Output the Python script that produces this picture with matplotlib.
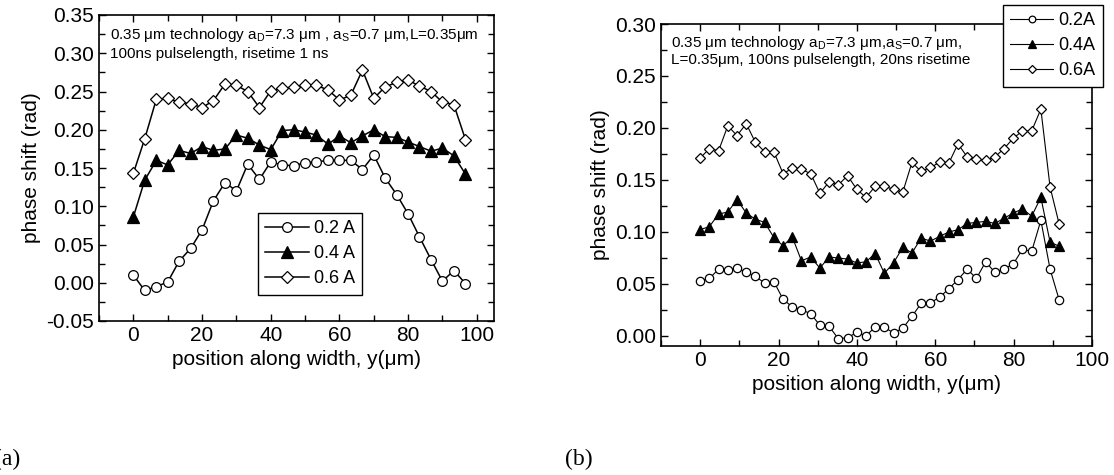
import numpy as np
import matplotlib.pyplot as plt
from matplotlib.ticker import MultipleLocator, FormatStrFormatter

plt.rcParams['font.family'] = ['Liberation Sans', 'DejaVu Sans']
plt.rcParams['mathtext.fontset'] = 'custom'
plt.rcParams['mathtext.rm'] = 'Liberation Sans'
plt.rcParams['mathtext.it'] = 'Liberation Sans:italic'
plt.rcParams['axes.unicode_minus'] = False

# (a) risetime 1 ns
x_a = [0, 3.3, 6.7, 10, 13.3, 16.7, 20, 23.3, 26.7, 30, 33.3, 36.7, 40, 43.3, 46.7,
       50, 53.3, 56.7, 60, 63.3, 66.7, 70, 73.3, 76.7, 80, 83.3, 86.7, 90, 93.3, 96.7]
a_02 = [0.010, -0.010, -0.005, 0.001, 0.028, 0.045, 0.069, 0.107, 0.131, 0.120,
        0.155, 0.135, 0.158, 0.154, 0.153, 0.157, 0.158, 0.160, 0.160, 0.160,
        0.148, 0.167, 0.137, 0.115, 0.090, 0.060, 0.030, 0.002, 0.016, -0.001]
a_04 = [0.086, 0.134, 0.160, 0.154, 0.173, 0.169, 0.178, 0.173, 0.175, 0.193,
        0.189, 0.180, 0.174, 0.199, 0.200, 0.197, 0.193, 0.181, 0.192, 0.183,
        0.192, 0.200, 0.191, 0.190, 0.184, 0.178, 0.172, 0.176, 0.166, 0.142]
a_06 = [0.143, 0.188, 0.240, 0.241, 0.236, 0.234, 0.229, 0.238, 0.260, 0.258,
        0.250, 0.229, 0.251, 0.254, 0.256, 0.258, 0.258, 0.252, 0.239, 0.245,
        0.278, 0.241, 0.256, 0.262, 0.265, 0.257, 0.250, 0.236, 0.233, 0.187]

# (b) risetime 20 ns
x_b = [0, 2.35, 4.7, 7.05, 9.4, 11.75, 14.1, 16.45, 18.8, 21.15, 23.5, 25.85, 28.2,
       30.55, 32.9, 35.25, 37.6, 39.95, 42.3, 44.65, 47.0, 49.35, 51.7, 54.05, 56.4,
       58.75, 61.1, 63.45, 65.8, 68.15, 70.5, 72.85, 75.2, 77.55, 79.9, 82.25, 84.6,
       86.95, 89.3, 91.65]
b_02 = [0.053, 0.055, 0.064, 0.0635, 0.065, 0.061, 0.057, 0.0506, 0.052, 0.035,
        0.0276, 0.025, 0.021, 0.010, 0.009, -0.003, -0.002, 0.003, 0.000, 0.008,
        0.008, 0.0026, 0.007, 0.0186, 0.031, 0.0315, 0.037, 0.045, 0.054, 0.064,
        0.055, 0.071, 0.061, 0.064, 0.069, 0.083, 0.081, 0.111, 0.064, 0.034]
b_04 = [0.102, 0.105, 0.117, 0.119, 0.131, 0.118, 0.112, 0.109, 0.0945, 0.0865,
        0.095, 0.072, 0.0757, 0.065, 0.0757, 0.0747, 0.0737, 0.070, 0.071, 0.079,
        0.060, 0.070, 0.085, 0.0795, 0.094, 0.091, 0.0955, 0.0997, 0.102, 0.108,
        0.109, 0.110, 0.108, 0.113, 0.118, 0.122, 0.115, 0.133, 0.090, 0.086]
b_06 = [0.171, 0.180, 0.178, 0.202, 0.1926, 0.204, 0.186, 0.177, 0.177, 0.156,
        0.161, 0.160, 0.156, 0.137, 0.148, 0.145, 0.154, 0.141, 0.133, 0.1436,
        0.1436, 0.141, 0.138, 0.1667, 0.158, 0.162, 0.1667, 0.166, 0.1846, 0.172,
        0.170, 0.1686, 0.172, 0.180, 0.190, 0.197, 0.197, 0.218, 0.143, 0.107]

W, H = 1114, 475


def style_axes(ax):
    ax.tick_params(which='both', direction='in', top=True, right=True,
                   labelsize=15, width=1)
    ax.tick_params(which='major', length=5)
    ax.tick_params(which='minor', length=4)
    ax.xaxis.set_major_locator(MultipleLocator(20))
    ax.xaxis.set_minor_locator(MultipleLocator(10))
    ax.yaxis.set_major_locator(MultipleLocator(0.05))
    ax.yaxis.set_minor_locator(MultipleLocator(0.025))
    ax.yaxis.set_major_formatter(FormatStrFormatter('%.2f'))
    for s in ax.spines.values():
        s.set_linewidth(1.2)
    ax.set_xlabel('position along width, y(μm)', fontsize=15)
    ax.set_ylabel('phase shift (rad)', fontsize=15)


fig = plt.figure(figsize=(W / 100, H / 100), dpi=100)

# ---- (a)
ax1 = fig.add_axes([99 / W, 1 - 321 / H, 395 / W, 306 / H])
ax1.plot(x_a, a_02, 'k-', marker='o', ms=7, mfc='white', mew=0.9, lw=1.1, label='0.2 A')
ax1.plot(x_a, a_04, 'k-', marker='^', ms=8, mfc='black', mew=0.9, lw=1.1, label='0.4 A')
ax1.plot(x_a, a_06, 'k-', marker='D', ms=6, mfc='white', mew=0.9, lw=1.1, label='0.6 A')
ax1.set_xlim(-10, 105)
ax1.set_ylim(-0.05, 0.35)
style_axes(ax1)
ax1.text(110 / W, 1 - 26 / H, '0.35 μm technology a$_\\mathrm{D}$=7.3 μm , a$_\\mathrm{S}$=0.7 μm,L=0.35μm',
         transform=fig.transFigure, fontsize=11, va='top')
ax1.text(110 / W, 1 - 47 / H, '100ns pulselength, risetime 1 ns',
         transform=fig.transFigure, fontsize=11, va='top')
leg1 = ax1.legend(loc='upper left', bbox_to_anchor=(258 / W, 1 - 213 / H),
                  bbox_transform=fig.transFigure, borderaxespad=0, fontsize=13,
                  fancybox=False, framealpha=1, edgecolor='black', handlelength=2.4,
                  labelspacing=0.45, handletextpad=0.3)
leg1.get_frame().set_linewidth(1.0)

# ---- (b)
ax2 = fig.add_axes([661 / W, 1 - 346 / H, 431 / W, 322 / H])
ax2.plot(x_b, b_02, 'k-', marker='o', ms=6, mfc='white', mew=0.9, lw=0.8, label='0.2A')
ax2.plot(x_b, b_04, 'k-', marker='^', ms=7, mfc='black', mew=0.9, lw=0.8, label='0.4A')
ax2.plot(x_b, b_06, 'k-', marker='D', ms=5, mfc='white', mew=0.9, lw=0.8, label='0.6A')
ax2.set_xlim(-10, 100)
ax2.set_ylim(-0.01, 0.30)
style_axes(ax2)
ax2.text(671 / W, 1 - 34 / H, '0.35 μm technology a$_\\mathrm{D}$=7.3 μm,a$_\\mathrm{S}$=0.7 μm,',
         transform=fig.transFigure, fontsize=11, va='top')
ax2.text(671 / W, 1 - 53 / H, 'L=0.35μm, 100ns pulselength, 20ns risetime',
         transform=fig.transFigure, fontsize=11, va='top')
leg2 = ax2.legend(loc='upper right', bbox_to_anchor=(1103 / W, 1 - 5 / H),
                  bbox_transform=fig.transFigure, borderaxespad=0, fontsize=13,
                  fancybox=False, framealpha=1, edgecolor='black', handlelength=2.4,
                  labelspacing=0.45, handletextpad=0.3, markerscale=0.8)
leg2.get_frame().set_linewidth(1.0)

fig.text(-6 / W, 0.02, '(a)', fontsize=17, family='Liberation Serif')
fig.text(565 / W, 0.02, '(b)', fontsize=17, family='Liberation Serif')

fig.savefig('out.png', dpi=100)
